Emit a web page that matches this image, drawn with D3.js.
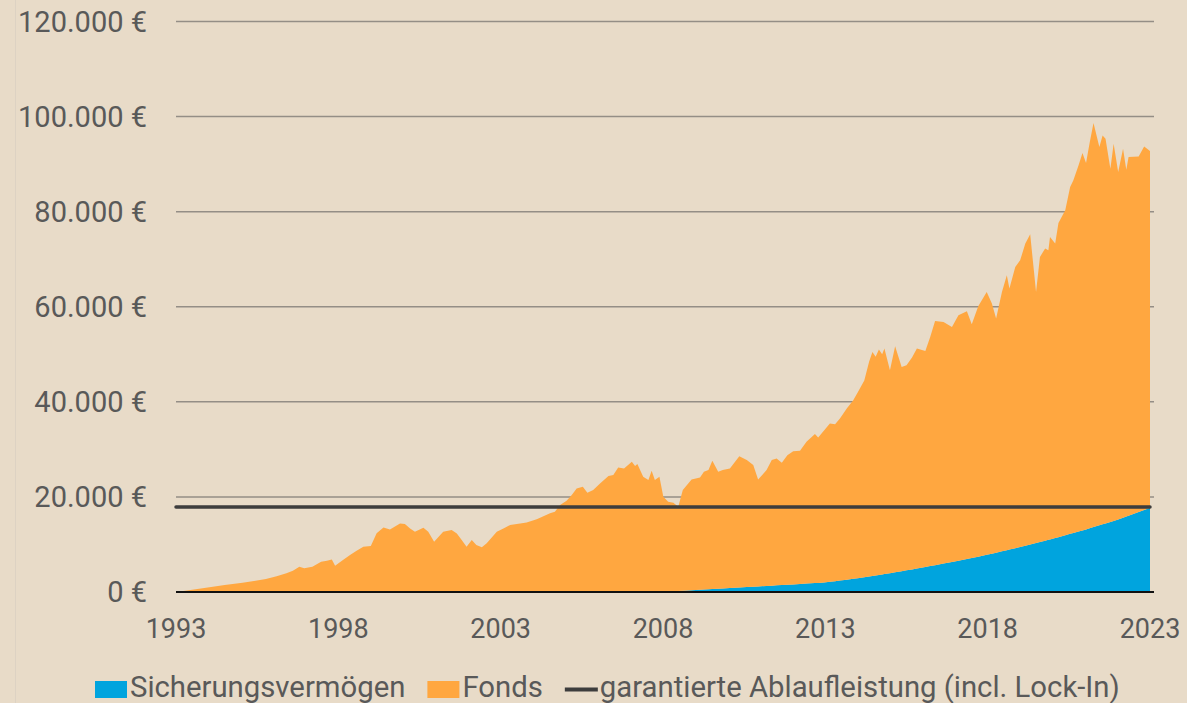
<!DOCTYPE html>
<html>
<head>
<meta charset="utf-8">
<script src="https://cdn.jsdelivr.net/npm/d3@7"></script>
<style>
  html, body { margin: 0; padding: 0; background: #e8dbc8; }
  svg { display: block; font-family: Roboto, "Noto Sans", sans-serif; }
</style>
</head>
<body>
<svg id="chart" width="1187" height="703"></svg>
<script>
// decimal year of each point
const dates = [
  1993.00, 1993.50, 1994.03, 1994.50, 1995.05, 1995.40, 1995.77, 1996.10, 1996.40, 1996.60,
  1996.80, 1996.95, 1997.20, 1997.47, 1997.65, 1997.80, 1997.90, 1998.10, 1998.36, 1998.55,
  1998.77, 1999.00, 1999.18, 1999.39, 1999.59, 1999.90, 2000.05, 2000.21, 2000.36, 2000.62,
  2000.77, 2000.95, 2001.23, 2001.49, 2001.65, 2001.80, 2001.95, 2002.11, 2002.25, 2002.42,
  2002.57, 2002.88, 2003.10, 2003.29, 2003.60, 2003.80, 2004.11, 2004.30, 2004.52, 2004.67,
  2004.83, 2005.03, 2005.19, 2005.34, 2005.53, 2005.67, 2005.85, 2006.06, 2006.32, 2006.47,
  2006.62, 2006.80, 2007.04, 2007.14, 2007.21, 2007.39, 2007.55, 2007.65, 2007.75, 2007.89,
  2008.01, 2008.16, 2008.32, 2008.47, 2008.61, 2008.88, 2009.14, 2009.26, 2009.40, 2009.52,
  2009.70, 2009.84, 2010.06, 2010.35, 2010.58, 2010.78, 2010.93, 2011.19, 2011.35, 2011.50,
  2011.66, 2011.83, 2012.01, 2012.22, 2012.42, 2012.68, 2012.78, 2012.96, 2013.14, 2013.30,
  2013.45, 2013.66, 2013.86, 2014.00, 2014.20, 2014.35, 2014.45, 2014.55, 2014.65, 2014.75,
  2014.82, 2014.99, 2015.15, 2015.35, 2015.50, 2015.67, 2015.82, 2016.08, 2016.23, 2016.38,
  2016.64, 2016.90, 2017.10, 2017.36, 2017.51, 2017.71, 2017.97, 2018.13, 2018.26, 2018.44,
  2018.59, 2018.67, 2018.85, 2019.00, 2019.16, 2019.31, 2019.49, 2019.61, 2019.77, 2019.87,
  2019.92, 2020.08, 2020.18, 2020.39, 2020.54, 2020.64, 2020.80, 2020.92, 2021.03, 2021.14,
  2021.26, 2021.44, 2021.54, 2021.63, 2021.78, 2021.88, 2022.02, 2022.17, 2022.27, 2022.34,
  2022.65, 2022.82, 2023.00
];

// Sicherungsvermögen (unten gestapelt)
const sicherung = [
  0, 0, 0, 0, 0, 0, 0, 0, 0, 0,
  0, 0, 0, 0, 0, 0, 0, 0, 0, 0,
  0, 0, 0, 0, 0, 0, 0, 0, 0, 0,
  0, 0, 0, 0, 0, 0, 0, 0, 0, 0,
  0, 0, 0, 0, 0, 0, 0, 0, 0, 0,
  0, 0, 0, 0, 0, 0, 0, 0, 0, 0,
  0, 0, 0, 0, 0, 0, 0, 0, 0, 0,
  0, 60, 130, 190, 240, 350, 460, 500, 560, 610,
  680, 740, 820, 940, 1030, 1110, 1170, 1280, 1340, 1400,
  1460, 1530, 1600, 1690, 1770, 1870, 1910, 1990, 2130, 2270,
  2400, 2590, 2770, 2900, 3110, 3270, 3370, 3480, 3580, 3690,
  3760, 3940, 4130, 4370, 4550, 4750, 4930, 5250, 5450, 5640,
  5980, 6320, 6590, 6950, 7160, 7440, 7810, 8060, 8270, 8550,
  8790, 8920, 9210, 9450, 9730, 9990, 10310, 10520, 10800, 10970,
  11060, 11350, 11540, 11940, 12230, 12420, 12720, 12950, 13160, 13390,
  13650, 14020, 14230, 14420, 14740, 14950, 15250, 15630, 15880, 16050,
  16830, 17250, 17700
];

// Fonds (oben gestapelt)
const fonds = [
  0, 480, 990, 1450, 1960, 2300, 2730, 3300, 3920, 4450,
  5320, 4970, 5320, 6370, 6550, 6860, 5500, 6500, 7780, 8600,
  9520, 9700, 12340, 13590, 13170, 14430, 14290, 13380, 12670, 13520,
  12670, 10570, 12670, 13030, 12300, 10930, 9520, 10930, 9900, 9390,
  10230, 12670, 13400, 14080, 14430, 14600, 15280, 15900, 16540, 16880,
  18280, 19190, 20390, 21790, 22130, 20870, 21440, 22840, 24380, 24590,
  26200, 26000, 27380, 26480, 26900, 24230, 23540, 25490, 23540, 24230,
  20030, 18920, 18640, 17740, 21200, 23330, 23640, 24780, 25080, 26980,
  24600, 24900, 25180, 27640, 26710, 25580, 22510, 24360, 26400, 26690,
  25710, 27260, 28030, 28010, 29820, 31340, 30600, 32000, 33320, 33030,
  34100, 36010, 37580, 39100, 41390, 45230, 47130, 46020, 47420, 46310,
  47440, 42720, 47570, 42980, 43160, 44570, 46280, 45460, 48200, 51380,
  50830, 49430, 51620, 52100, 49160, 52660, 55300, 52610, 49250, 54560,
  57830, 54900, 59160, 60320, 63550, 65250, 52800, 59950, 61430, 60910,
  63610, 61930, 66070, 68340, 72950, 74170, 77020, 79380, 77060, 81030,
  84980, 79560, 81810, 80930, 74300, 79340, 73090, 77600, 72950, 75430,
  74800, 76480, 75050
];

const garantie = 17900;
const yTicks = [0, 20000, 40000, 60000, 80000, 100000, 120000];
const xTicks = [1993, 1998, 2003, 2008, 2013, 2018, 2023];
const seriesNames = ["Sicherungsvermögen", "Fonds"];
const lineName = "garantierte Ablaufleistung (incl. Lock-In)";
const colors = { "Sicherungsvermögen": "#00a4de", "Fonds": "#ffa740" };

const W = 1187, H = 703;
const margin = { left: 176, right: 33, top: 21.5, bottom: 111 };
const textColor = "#595959";

const svg = d3.select("#chart");

svg.append("rect").attr("width", W).attr("height", H).attr("fill", "#e8dbc8");
svg.append("line")
  .attr("x1", 15.5).attr("x2", 15.5).attr("y1", 0).attr("y2", H)
  .attr("stroke", "#ddd2c3").attr("stroke-width", 1);

const x = d3.scaleLinear()
  .domain([1993, 2023])
  .range([margin.left, 1150]);

const y = d3.scaleLinear()
  .domain([0, 120000])
  .range([592, margin.top]);

const de = d3.formatLocale({ decimal: ",", thousands: ".", grouping: [3], currency: ["", " €"] });
const fmt = de.format("$,.0f");

// Gitterlinien
svg.append("g")
  .selectAll("line")
  .data(yTicks.filter(d => d > 0))
  .join("line")
  .attr("x1", margin.left).attr("x2", 1154)
  .attr("y1", d => y(d)).attr("y2", d => y(d))
  .attr("stroke", "#948e86").attr("stroke-width", 1.5);

// Y-Achse
svg.append("g")
  .selectAll("text")
  .data(yTicks)
  .join("text")
  .attr("x", 147)
  .attr("y", d => y(d))
  .attr("dy", "0.36em")
  .attr("text-anchor", "end")
  .attr("fill", textColor)
  .style("font-size", "29px")
  .text(d => fmt(d));

// gestapelte Flächen
const rows = dates.map((d, i) => ({ date: d, "Sicherungsvermögen": sicherung[i], "Fonds": fonds[i] }));
const stacked = d3.stack().keys(seriesNames)(rows);

const area = d3.area()
  .x(d => x(d.data.date))
  .y0(d => y(d[0]))
  .y1(d => y(d[1]));

svg.append("g")
  .selectAll("path")
  .data(stacked)
  .join("path")
  .attr("fill", d => colors[d.key])
  .attr("d", area);

// garantierte Ablaufleistung
svg.append("line")
  .attr("x1", x(1993)).attr("x2", x(2023))
  .attr("y1", y(garantie)).attr("y2", y(garantie))
  .attr("stroke", "#3d3d3d").attr("stroke-width", 3.5)
  .attr("stroke-linecap", "round");

// Nulllinie
svg.append("line")
  .attr("x1", margin.left).attr("x2", 1154)
  .attr("y1", y(0)).attr("y2", y(0))
  .attr("stroke", "#111").attr("stroke-width", 2);

// X-Achse
svg.append("g")
  .selectAll("text")
  .data(xTicks)
  .join("text")
  .attr("x", d => x(d))
  .attr("y", 638)
  .attr("text-anchor", "middle")
  .attr("fill", textColor)
  .style("font-size", "27px")
  .text(d => d);

// Legende
const legend = svg.append("g").attr("transform", "translate(95,0)");
let lx = 0;
seriesNames.forEach(name => {
  legend.append("rect")
    .attr("x", lx).attr("y", 681)
    .attr("width", 32).attr("height", 17)
    .attr("fill", colors[name]);
  const t = legend.append("text")
    .attr("x", lx + 35).attr("y", 697)
    .attr("fill", textColor)
    .style("font-size", "29.3px")
    .text(name);
  lx += 35 + t.node().getComputedTextLength() + 22;
});
legend.append("line")
  .attr("x1", lx).attr("x2", lx + 33)
  .attr("y1", 689.5).attr("y2", 689.5)
  .attr("stroke", "#3d3d3d").attr("stroke-width", 4);
legend.append("text")
  .attr("x", lx + 35).attr("y", 697)
  .attr("fill", textColor)
  .style("font-size", "29.3px")
  .text(lineName);
</script>
</body>
</html>
